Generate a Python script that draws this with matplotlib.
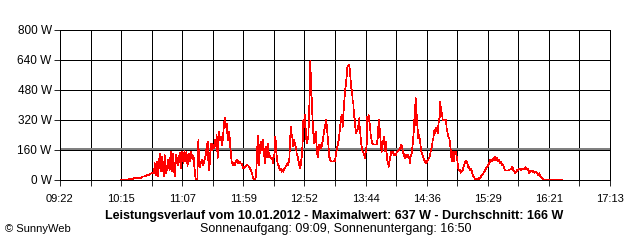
import matplotlib
matplotlib.use("Agg")
import matplotlib.pyplot as plt
import numpy as np

# time in minutes after midnight, power in W
t_min = [614.2, 615.1, 616.4, 616.8, 620.2, 620.7, 624.5, 625.4, 631.4, 632.2, 635.7, 636.5, 639.1, 639.9, 642.5,
         643.1, 644.0, 645.1, 646.0, 647.4, 648.2, 649.6, 650.8, 651.6, 653.0, 654.5, 655.9, 656.8, 657.9, 658.8,
         660.2, 661.6, 663.0, 664.5, 665.4, 666.7, 667.8, 668.6, 669.5, 670.3, 671.2, 672.5, 673.3, 674.4, 675.5,
         676.3, 677.2, 678.2, 678.9, 679.6, 680.0, 680.5, 681.0, 681.9, 682.7, 683.9, 684.7, 685.6, 686.8, 687.6,
         688.5, 689.0, 689.9, 690.5, 691.3, 691.9, 692.4, 693.3, 694.1, 694.7, 695.6, 696.1, 697.0, 697.5, 698.4,
         699.0, 699.9, 701.0, 701.9, 702.5, 703.3, 703.9, 704.8, 705.3, 706.1, 707.0, 707.6, 708.4, 709.0, 709.9,
         711.0, 711.9, 712.7, 713.8, 714.7, 715.5, 716.7, 717.6, 719.0, 720.4, 721.9, 723.3, 724.7, 725.6, 726.7,
         727.5, 729.0, 729.8, 730.7, 731.3, 731.8, 732.4, 733.3, 733.9, 734.7, 735.6, 736.1, 737.0, 737.6, 738.4,
         739.3, 739.9, 741.0, 741.8, 742.7, 743.8, 744.1, 744.8, 745.8, 746.4, 747.0, 747.6, 748.4, 749.5, 750.4,
         751.3, 751.9, 752.7, 753.2, 754.1, 755.3, 756.7, 757.5, 758.4, 759.0, 759.6, 760.4, 760.9, 761.8, 762.4,
         763.2, 764.1, 764.7, 765.6, 766.4, 766.9, 767.8, 768.4, 769.2, 769.8, 770.4, 771.2, 771.8, 772.7, 773.3,
         774.2, 774.7, 775.3, 775.8, 776.4, 776.9, 777.5, 778.1, 778.7, 779.3, 779.8, 780.4, 781.0, 781.5, 782.4,
         783.0, 783.6, 784.1, 784.7, 785.5, 786.4, 787.5, 788.3, 789.2, 789.8, 790.4, 790.9, 791.8, 792.6, 793.5,
         794.7, 796.1, 797.5, 798.4, 799.0, 799.8, 800.7, 801.8, 802.6, 803.2, 804.1, 804.6, 805.2, 806.1, 806.9,
         807.5, 808.0, 808.6, 809.7, 810.3, 810.9, 811.5, 812.1, 812.7, 813.2, 813.8, 814.4, 814.9, 815.5, 816.1,
         816.6, 817.5, 818.1, 818.7, 819.2, 819.8, 820.4, 821.2, 822.1, 822.6, 823.2, 823.8, 824.6, 825.1, 825.7,
         826.3, 826.8, 827.5, 828.1, 828.6, 829.2, 830.3, 833.2, 834.1, 834.6, 835.2, 835.8, 836.3, 836.9, 837.5,
         838.0, 838.6, 839.5, 840.1, 840.6, 841.2, 841.8, 842.3, 842.9, 843.5, 844.0, 844.6, 845.2, 845.7, 846.3,
         846.9, 847.8, 848.6, 849.5, 850.3, 851.2, 852.3, 853.2, 854.0, 854.9, 855.7, 856.6, 857.4, 858.3, 859.2,
         860.0, 860.9, 861.7, 862.3, 863.2, 863.7, 864.3, 864.9, 865.4, 866.0, 866.6, 867.1, 867.7, 868.3, 868.8,
         869.4, 870.3, 871.1, 872.0, 872.9, 873.7, 874.6, 875.4, 876.3, 877.1, 878.0, 878.9, 879.7, 880.6, 881.2,
         881.7, 882.3, 882.9, 883.4, 884.0, 884.6, 885.1, 885.7, 886.0, 886.6, 887.2, 887.4, 888.0, 888.5, 889.1,
         889.7, 892.6, 893.1, 894.0, 894.9, 895.4, 896.0, 896.6, 897.1, 897.7, 898.3, 898.8, 899.7, 900.0, 900.5,
         901.1, 901.7, 902.2, 902.8, 903.4, 904.3, 905.2, 906.0, 906.9, 907.7, 908.6, 909.4, 910.3, 911.2, 912.0,
         912.5, 913.1, 914.0, 914.8, 915.4, 916.3, 917.1, 918.3, 919.4, 920.2, 921.1, 921.9, 922.8, 923.6, 924.5,
         925.3, 926.2, 927.0, 927.9, 928.8, 929.6, 930.5, 931.3, 932.2, 933.1, 933.9, 934.8, 935.6, 936.5, 937.3,
         938.2, 938.8, 939.7, 940.5, 941.4, 942.2, 943.1, 944.5, 945.9, 946.8, 947.6, 948.5, 949.4, 950.2, 951.1,
         951.9, 952.8, 953.6, 954.5, 955.3, 956.2, 957.1, 957.9, 958.8, 959.6, 960.5, 961.3, 962.2, 963.1, 963.9,
         964.8, 965.6, 966.5, 967.3, 968.2, 969.1, 969.9, 970.8, 971.6, 972.5, 973.3, 974.2, 975.0, 975.9, 980.8,
         981.2, 991.0, 991.5]

watts = [0, 3, 3, 0, 0, 4, 5, 9, 9, 18, 20, 25, 30, 35, 38,
         89, 27, 98, 20, 142, 45, 124, 20, 133, 35, 107, 53, 151, 45, 142,
         18, 133, 80, 146, 62, 151, 90, 155, 100, 150, 75, 140, 100, 151, 110,
         130, 60, 3, 0, 5, 107, 213, 107, 71, 98, 107, 80, 102, 133, 178,
         204, 107, 53, 124, 195, 160, 195, 178, 169, 213, 178, 240, 116, 195, 258,
         213, 231, 187, 258, 302, 329, 284, 302, 249, 213, 258, 195, 142, 98, 80,
         89, 80, 98, 110, 89, 98, 89, 85, 62, 71, 80, 76, 62, 53, 27,
         9, 5, 18, 124, 235, 151, 80, 178, 204, 160, 213, 187, 124, 89, 178,
         124, 195, 124, 130, 116, 116, 89, 116, 142, 231, 187, 124, 89, 71, 53,
         62, 44, 53, 44, 62, 71, 89, 80, 116, 195, 284, 231, 240, 178, 213,
         195, 169, 142, 124, 98, 80, 62, 98, 133, 204, 320, 284, 347, 231, 195,
         222, 231, 347, 453, 637, 516, 444, 347, 258, 231, 195, 240, 258, 204, 133,
         124, 187, 160, 187, 169, 187, 231, 267, 293, 320, 293, 258, 187, 124, 107,
         98, 98, 102, 142, 160, 187, 213, 276, 329, 347, 284, 338, 400, 471, 516,
         551, 596, 610, 612, 578, 533, 489, 471, 418, 409, 338, 329, 284, 249, 267,
         258, 293, 329, 275, 249, 204, 173, 151, 142, 133, 116, 151, 187, 338, 329,
         347, 320, 284, 240, 222, 195, 190, 190, 222, 284, 320, 267, 222, 178, 151,
         178, 204, 231, 195, 151, 204, 133, 107, 89, 71, 89, 116, 133, 151, 142,
         151, 133, 142, 133, 146, 151, 160, 169, 187, 178, 151, 133, 116, 133, 124,
         133, 124, 89, 124, 142, 169, 204, 258, 320, 373, 436, 293, 347, 267, 222,
         240, 213, 160, 142, 124, 107, 98, 89, 98, 107, 116, 133, 160, 178, 213,
         222, 258, 267, 249, 276, 258, 267, 249, 293, 320, 338, 418, 391, 364, 356,
         320, 320, 276, 249, 222, 222, 195, 160, 124, 98, 151, 124, 98, 151, 142,
         151, 124, 107, 71, 53, 53, 39, 44, 53, 71, 89, 101, 98, 80, 62,
         71, 53, 62, 44, 27, 18, 9, 3, 3, 9, 3, 14, 21, 27, 36,
         44, 53, 65, 71, 80, 89, 107, 98, 107, 116, 107, 124, 107, 116, 98,
         107, 89, 98, 80, 80, 71, 50, 50, 50, 53, 57, 62, 71, 53, 44,
         36, 44, 53, 50, 62, 57, 53, 62, 57, 62, 68, 57, 62, 53, 36,
         44, 50, 44, 50, 39, 44, 41, 36, 27, 36, 21, 14, 9, 0, 0,
         3, 3, 0]

average_w = 166
x_start, x_end = 562.0, 1033.0   # 09:22 .. 17:13
x_labels = ["09:22", "10:15", "11:07", "11:59", "12:52", "13:44", "14:36", "15:29", "16:21", "17:13"]
y_ticks = [0, 160, 320, 480, 640, 800]
y_labels = ["0 W", "160 W", "320 W", "480 W", "640 W", "800 W"]

title = "Leistungsverlauf vom 10.01.2012 - Maximalwert: 637 W - Durchschnitt: 166 W"
subtitle = "Sonnenaufgang: 09:09, Sonnenuntergang: 16:50"
credit = "\u00a9 SunnyWeb"

plt.rcParams['font.family'] = ['Liberation Sans', 'DejaVu Sans']

fig = plt.figure(figsize=(6.4, 2.4), dpi=100)
ax = fig.add_axes([60 / 640, 1 - 180 / 240, 550 / 640, 150 / 240])

LW = 0.6
grid_x = np.linspace(x_start, x_end, 2 * (len(x_labels) - 1) + 1)
for gx in grid_x:
    ax.axvline(gx, color="black", lw=LW, zorder=1, antialiased=False)
for gy in y_ticks:
    ax.axhline(gy, color="black", lw=LW, zorder=1, antialiased=False)

ax.plot(t_min, watts, color="#ff0000", lw=0.5, zorder=3, antialiased=False)
ax.axhline(average_w, color="#808080", lw=1.3, zorder=2, antialiased=False)

ax.set_xlim(x_start, x_end)
ax.set_ylim(0, 800)
ax.set_xticks(grid_x)
ax.set_xticklabels([x_labels[k // 2] if k % 2 == 0 else "" for k in range(len(grid_x))])
ax.set_yticks(y_ticks)
ax.set_yticklabels(y_labels)
ax.tick_params(axis="both", direction="out", length=4, width=LW, color="black",
               labelcolor="black")
ax.tick_params(axis="x", pad=6, labelsize=8)
ax.tick_params(axis="y", pad=2, labelsize=8.5)
for s in ax.spines.values():
    s.set_linewidth(LW)
    s.set_color("black")
    s.set_zorder(4)
    s.set_antialiased(False)

fig.text(334 / 640, 1 - 216 / 240, title, ha="center", va="center", fontsize=9, fontweight="bold")
fig.text(336 / 640, 1 - 229 / 240, subtitle, ha="center", va="center", fontsize=9)
fig.text(5 / 640, 1 - 229 / 240, credit, ha="left", va="center", fontsize=8)

fig.savefig("out.png", dpi=100, facecolor="white")
